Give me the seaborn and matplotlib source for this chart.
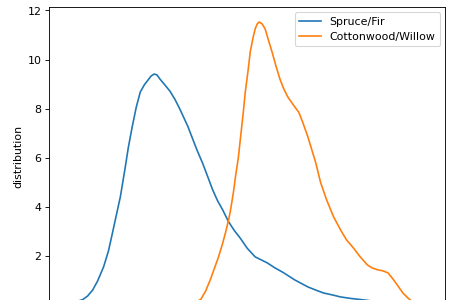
import numpy as np
import pandas as pd
import matplotlib
matplotlib.use("Agg")
import matplotlib.pyplot as plt
import seaborn as sns

# Values (x in arbitrary feature units, y = density)
spruce_x = [0.006, 0.016, 0.026, 0.034, 0.039, 0.044, 0.049, 0.055, 0.060, 0.064,
            0.068, 0.072, 0.077, 0.080, 0.084, 0.088, 0.092, 0.096, 0.099, 0.103,
            0.106, 0.109, 0.112, 0.117, 0.122, 0.127, 0.132, 0.140, 0.149, 0.155,
            0.160, 0.165, 0.170, 0.175, 0.181, 0.187, 0.193, 0.200, 0.208, 0.214,
            0.220, 0.228, 0.236, 0.248, 0.261, 0.269, 0.277, 0.287, 0.294, 0.304,
            0.319, 0.334, 0.355, 0.375, 0.395]
spruce_y = [0.01, 0.03, 0.12, 0.22, 0.37, 0.61, 0.98, 1.55, 2.21, 2.94,
            3.68, 4.42, 5.64, 6.42, 7.28, 8.06, 8.67, 8.96, 9.12, 9.33,
            9.41, 9.37, 9.20, 8.96, 8.71, 8.38, 7.98, 7.28, 6.34, 5.77,
            5.24, 4.70, 4.25, 3.89, 3.40, 3.03, 2.72, 2.31, 1.96, 1.84,
            1.72, 1.51, 1.33, 1.02, 0.74, 0.61, 0.49, 0.40, 0.33, 0.27,
            0.20, 0.12, 0.06, 0.02, 0.00]

cotton_x = [0.127, 0.137, 0.145, 0.153, 0.158, 0.163, 0.167, 0.171, 0.175, 0.178,
            0.181, 0.183, 0.186, 0.188, 0.191, 0.193, 0.196, 0.198, 0.201, 0.203,
            0.206, 0.208, 0.210, 0.212, 0.215, 0.218, 0.221, 0.225, 0.229, 0.233,
            0.237, 0.241, 0.246, 0.252, 0.256, 0.261, 0.265, 0.269, 0.274, 0.280,
            0.287, 0.294, 0.300, 0.307, 0.314, 0.321, 0.326, 0.332, 0.337, 0.342,
            0.347, 0.352, 0.357, 0.362, 0.367, 0.373, 0.380]
cotton_y = [0.00, 0.01, 0.08, 0.22, 0.57, 1.06, 1.51, 1.96, 2.49, 2.94,
            3.44, 3.84, 4.58, 5.19, 6.01, 6.75, 7.85, 8.67, 9.61, 10.31,
            10.92, 11.25, 11.45, 11.53, 11.45, 11.25, 10.84, 10.31, 9.73, 9.20,
            8.79, 8.47, 8.18, 7.85, 7.44, 6.87, 6.34, 5.81, 4.99, 4.29,
            3.60, 3.07, 2.66, 2.33, 1.96, 1.64, 1.51, 1.43, 1.39, 1.31,
            1.06, 0.78, 0.49, 0.29, 0.12, 0.02, 0.00]

labels = ["Spruce/Fir", "Cottonwood/Willow"]

df = pd.concat([
    pd.DataFrame({"value": spruce_x, "distribution": spruce_y, "cover": labels[0]}),
    pd.DataFrame({"value": cotton_x, "distribution": cotton_y, "cover": labels[1]}),
], ignore_index=True)

DPI = 79
fig = plt.figure(figsize=(471.5 / DPI, 300.5 / DPI), dpi=DPI)
ax = fig.add_axes([49 / 471, -5 / 300, 396 / 471, 298 / 300])

sns.lineplot(data=df, x="value", y="distribution", hue="cover",
             hue_order=labels, palette=["#1f77b4", "#ff7f0e"], ax=ax)

ax.set_xlim(0, 0.4)
ax.set_ylim(0, 12.16)
ax.set_xlabel("")
ax.set_ylabel("distribution")
handles, labs = ax.get_legend_handles_labels()
ax.legend(handles, labs, loc="upper right")

fig.savefig("out.png", dpi=DPI)
